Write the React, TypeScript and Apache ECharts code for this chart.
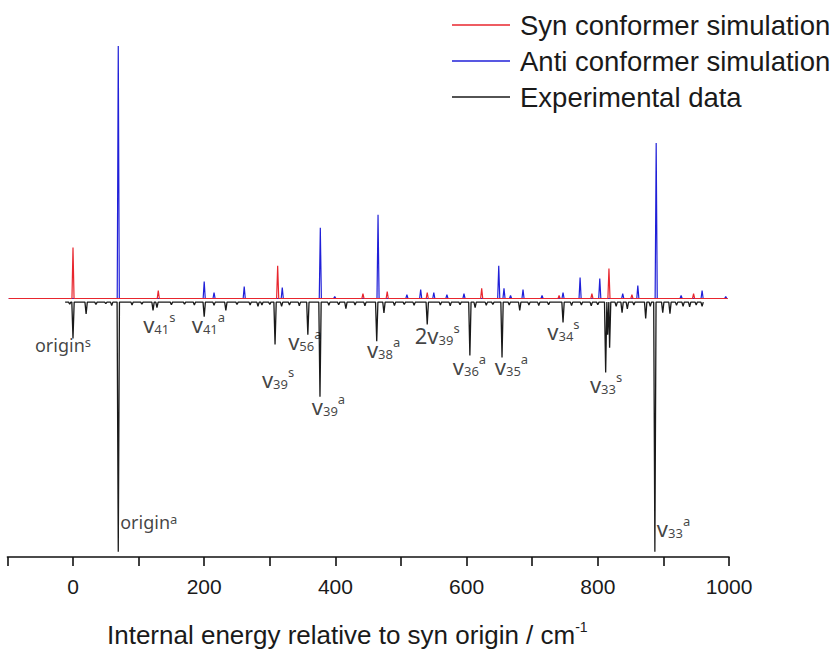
import React, { useEffect, useRef } from 'react';
import * as echarts from 'echarts';

// ---- axis ticks ----
const X_MIN = -100;
const X_MAX = 1000;
const X_TICK_STEP = 100;
const xLabelValues = [0, 200, 400, 600, 800, 1000];

// ---- Syn conformer simulation (red), peaks: position / height ----
const synRange = [-98, 998];
const synPeakX = [0, 130, 312, 442, 479, 540, 623, 741, 791, 817, 852, 946];
const synPeakY = [19.7, 3.1, 12.7, 1.9, 2.7, 2.3, 3.9, 1.2, 1.9, 11.6, 1.5, 1.9];

// ---- Anti conformer simulation (blue) ----
const antiRange = [-98, 998];
const antiPeakX = [69, 200, 215, 261, 319, 377, 399, 465, 509, 530, 550, 570, 596, 649, 657, 667, 686, 715, 747, 773, 803, 838, 861, 889, 927, 959, 995];
const antiPeakY = [97.7, 6.6, 2.3, 4.6, 4.2, 27.4, 0.8, 32.4, 1.5, 3.5, 2.3, 1.5, 1.9, 12.7, 3.9, 1.2, 3.5, 1.2, 2.3, 8.1, 7.7, 1.9, 5.0, 60.2, 1.2, 3.1, 0.8];

// ---- Experimental data (black, drawn downward) ----
const expRange = [-12, 960];
const expBaseline = -1.4;
const expPeakX = [-5, 0, 20, 35, 50, 59, 69, 90, 105, 122, 128, 150, 170, 185, 200, 215, 233, 250, 270, 282, 288, 300, 308, 318, 330, 345, 358, 376.5, 390, 405, 416, 430, 445, 463, 474, 490, 505, 520, 540, 560, 575, 590, 605, 613, 630, 640, 654, 665, 681, 695, 710, 725, 747, 760, 775, 790, 800, 812, 815, 818, 828, 837, 845, 855, 873, 880, 887, 899, 910, 920, 930, 940, 950, 959];
const expPeakY = [-2.2, -15.5, -6, -2.3, -2, -2.7, -98, -2.5, -2.2, -4.6, -3.5, -2.4, -2.2, -2.5, -7, -2.6, -4.6, -2.3, -2.5, -3, -2.5, -2.3, -17.8, -3, -2.5, -2.8, -14, -38, -2.6, -2.4, -3.9, -2.5, -2.8, -16.5, -5.6, -2.7, -2.3, -2.6, -10, -2.5, -2.8, -2.4, -22, -3.5, -2.6, -2.3, -22.8, -2.5, -4.6, -2.5, -2.7, -2.4, -9.3, -2.7, -2.5, -2.8, -2.4, -28.6, -14, -19, -3, -5.5, -4, -2.5, -7.7, -3, -98, -5.5, -5.9, -2.6, -3, -3.2, -2.5, -3];

// ---- annotations (left edge x, centre y in data units) ----
const annoBase = ['origin', 'v', 'v', 'v', 'v', 'v', 'v', '2v', 'v', 'v', 'v', 'v', 'origin', 'v'];
const annoSub = ['', '41', '41', '39', '56', '39', '38', '39', '36', '35', '34', '33', '', '33'];
const annoSup = ['s', 's', 'a', 's', 'a', 'a', 'a', 's', 'a', 'a', 's', 's', 'a', 'a'];
const annoX = [-58, 107, 181, 288, 328, 364, 448, 521, 579, 643, 723, 788, 72, 890];
const annoY = [-17.8, -9.7, -9.7, -31.3, -16.6, -41.5, -19.7, -14.3, -26.3, -26.3, -12.7, -33.2, -86.5, -88.6];

const seriesNames = ['Syn conformer simulation', 'Anti conformer simulation', 'Experimental data'];

const Y_MIN = -100;
const Y_MAX = 100;

function buildSpectrum(px: number[], py: number[], range: number[], base: number, w: number) {
  const pts: number[][] = [[range[0], base]];
  const idx = px.map((_, i) => i).sort((a, b) => px[a] - px[b]);
  idx.forEach((i) => {
    pts.push([px[i] - w, base], [px[i], py[i]], [px[i] + w, base]);
  });
  pts.push([range[1], base]);
  return pts;
}

function annoText(i: number) {
  const isOrigin = annoBase[i] === 'origin';
  return (
    `{${isOrigin ? 'o' : 'v'}|${annoBase[i]}}` +
    (annoSub[i] ? `{sub|${annoSub[i]}}` : '') +
    `{${isOrigin ? 'osup' : 'sup'}|${annoSup[i]}}`
  );
}

export default function App() {
  const ref = useRef<HTMLDivElement>(null);
  useEffect(() => {
    document.body.style.margin = '0';
    if (!ref.current) return;
    const chart = echarts.init(ref.current, undefined, { renderer: 'svg' });
    const labelFont = 'Noto Sans';
    const axisFont = 'Liberation Sans';
    const ink = '#1a1a1a';
    chart.setOption({
      animation: false,
      backgroundColor: '#ffffff',
      grid: { left: 7.4, right: 101, top: 40, bottom: 92 },
      legend: {
        data: seriesNames,
        orient: 'vertical',
        left: 452,
        top: 11,
        padding: 0,
        icon: 'rect',
        itemWidth: 58,
        itemHeight: 1.5,
        itemGap: 8,
        textStyle: { fontFamily: axisFont, fontSize: 27.5, color: ink, lineHeight: 27, padding: [0, 0, 0, 5] },
      },
      xAxis: {
        type: 'value',
        min: X_MIN,
        max: X_MAX,
        interval: X_TICK_STEP,
        position: 'bottom',
        axisLine: { show: true, onZero: false, lineStyle: { color: '#111', width: 1.6 } },
        axisTick: { show: true, length: 9, lineStyle: { color: '#111', width: 1.6 } },
        axisLabel: {
          show: true,
          customValues: xLabelValues,
          formatter: (v: number) => String(v),
          fontFamily: axisFont,
          fontSize: 21,
          color: ink,
          margin: 19,
        },
        splitLine: { show: false },
      },
      yAxis: { type: 'value', min: Y_MIN, max: Y_MAX, show: false },
      graphic: [
        {
          type: 'text',
          left: 107,
          top: 620,
          style: {
            text: '{t|Internal energy relative to syn origin / cm}{s|-1}',
            rich: {
              t: { fontSize: 26, fontFamily: axisFont, fill: ink },
              s: { fontSize: 14, fontFamily: axisFont, fill: ink, padding: [0, 0, 16, 0] },
            },
          },
        },
      ],
      series: [
        {
          name: seriesNames[2],
          type: 'line',
          data: buildSpectrum(expPeakX, expPeakY, expRange, expBaseline, 1.8),
          showSymbol: false,
          symbol: 'none',
          lineStyle: { color: ink, width: 1.3 },
          itemStyle: { color: ink },
          z: 1,
        },
        {
          name: seriesNames[1],
          type: 'line',
          data: buildSpectrum(antiPeakX, antiPeakY, antiRange, 0, 1.6),
          showSymbol: false,
          symbol: 'none',
          lineStyle: { color: '#2020d8', width: 1.2 },
          itemStyle: { color: '#2020d8' },
          z: 2,
        },
        {
          name: seriesNames[0],
          type: 'line',
          data: buildSpectrum(synPeakX, synPeakY, synRange, 0, 1.6),
          showSymbol: false,
          symbol: 'none',
          lineStyle: { color: '#e8262e', width: 1.2 },
          itemStyle: { color: '#e8262e' },
          z: 3,
        },
        {
          name: 'labels',
          type: 'scatter',
          data: annoX.map((x, i) => [x, annoY[i]]),
          symbolSize: 0,
          silent: true,
          z: 4,
          label: {
            show: true,
            position: 'right',
            distance: 0,
            color: '#111',
            formatter: (p: any) => annoText(p.dataIndex),
            rich: {
              o: { fontSize: 18, fontFamily: labelFont, color: '#111' },
              v: { fontSize: 22, fontFamily: labelFont, color: '#111' },
              sub: { fontSize: 13, fontFamily: labelFont, color: '#111', padding: [10, 0, 0, 0] },
              sup: { fontSize: 13, fontFamily: labelFont, color: '#111', padding: [0, 0, 14, 0] },
              osup: { fontSize: 13, fontFamily: labelFont, color: '#111', padding: [0, 0, 6, 0] },
            },
          },
        },
      ],
    });
    return () => chart.dispose();
  }, []);
  return <div ref={ref} style={{ width: 830, height: 649 }} />;
}
